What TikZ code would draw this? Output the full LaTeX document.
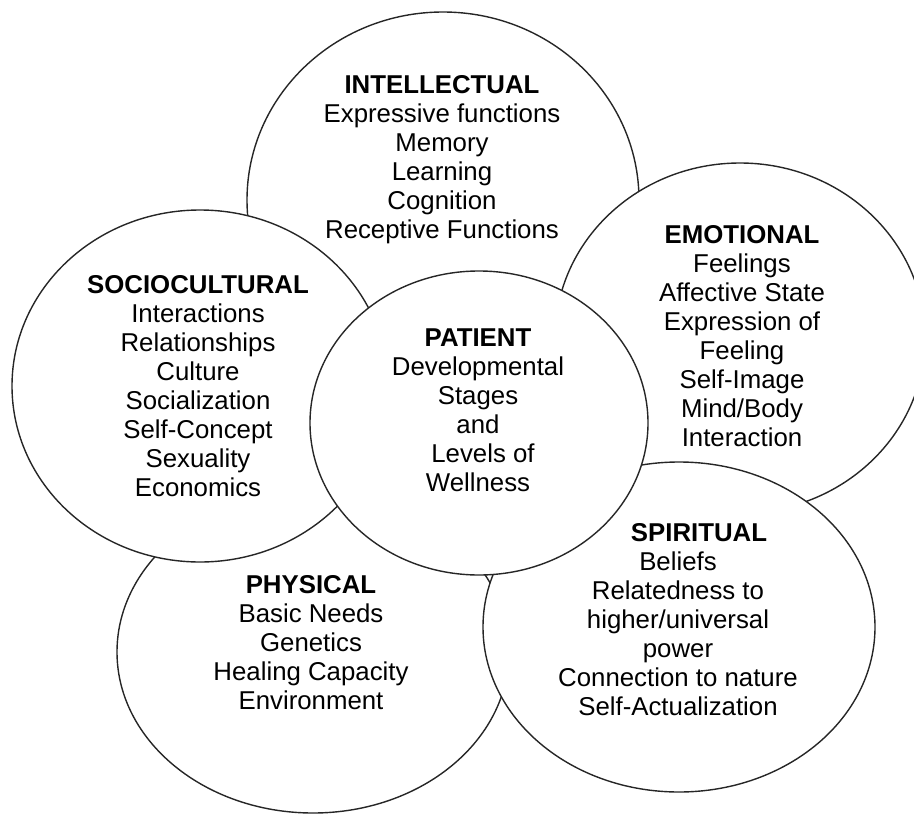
\documentclass[tikz,border=0pt]{standalone}
\usepackage{fontspec}
\setmainfont{Liberation Sans}
\usetikzlibrary{shapes.geometric}
\begin{document}
\begin{tikzpicture}[x=1pt, y=-1pt,
  area/.style={draw=black!85, ellipse, fill=white, line width=1.4pt, inner sep=0pt},
  txt/.style={align=center, anchor=north, inner sep=0pt, font=\fontsize{25.8}{29}\selectfont}]
\useasboundingbox (0,0) rectangle (914,814);
\node[area, minimum width=392pt, minimum height=376pt](intellectual) at (443,200){};
\node[txt](intellectualtext) at (442,75){\textbf{INTELLECTUAL}\\Expressive functions\\Memory\\Learning\\Cognition\\Receptive Functions};
\node[area, minimum width=370pt, minimum height=350pt](emotional) at (740,338){};
\node[txt](emotionaltext) at (742,225){\textbf{EMOTIONAL}\\Feelings\\Affective State\\Expression of\\Feeling\\Self-Image\\Mind/Body\\Interaction};
\node[area, minimum width=392pt, minimum height=322pt](physical) at (313,652){};
\node[txt](physicaltext) at (311,575){\textbf{PHYSICAL}\\Basic Needs\\Genetics\\Healing Capacity\\Environment};
\node[area, minimum width=376pt, minimum height=352pt](sociocultural) at (200,386){};
\node[txt](socioculturaltext) at (198,275){\textbf{SOCIOCULTURAL}\\Interactions\\Relationships\\Culture\\Socialization\\Self-Concept\\Sexuality\\Economics};
\node[area, minimum width=392pt, minimum height=330pt](spiritual) at (679,627){};
\node[txt](spiritualtext) at (678,523){\hspace*{42pt}\textbf{SPIRITUAL}\\Beliefs\\Relatedness to\\higher/universal\\power\\Connection to nature\\Self-Actualization};
\node[area, minimum width=338pt, minimum height=304pt](patient) at (479,423){};
\node[txt](patienttext) at (478,329){\textbf{PATIENT}\\Developmental\\Stages\\and\\\hspace*{10pt}Levels of\\Wellness};
\end{tikzpicture}
\end{document}
